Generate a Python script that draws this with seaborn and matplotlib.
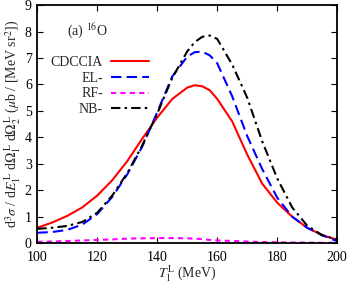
import numpy as np
import pandas as pd
import matplotlib
matplotlib.use("Agg")
import matplotlib.pyplot as plt
import seaborn as sns

# ---- data ----
t1 = [100, 105, 110, 115, 120, 125, 130, 135, 140, 145, 150, 152.5, 155, 157.5,
      160, 165, 170, 175, 180, 185, 190, 195, 200]
cdccia = [0.58, 0.78, 1.03, 1.35, 1.80, 2.38, 3.10, 3.95, 4.75, 5.45, 5.88, 5.97, 5.93, 5.78,
          5.45, 4.60, 3.35, 2.25, 1.53, 1.00, 0.58, 0.30, 0.13]
el = [0.39, 0.42, 0.50, 0.70, 1.10, 1.75, 2.60, 3.65, 4.95, 6.30, 7.05, 7.22, 7.24, 7.10,
      6.80, 5.55, 4.05, 2.80, 1.72, 1.00, 0.58, 0.30, 0.07]
rf = [0.05, 0.06, 0.08, 0.10, 0.12, 0.14, 0.17, 0.18, 0.19, 0.19, 0.18, 0.17, 0.15, 0.12,
      0.10, 0.08, 0.06, 0.04, 0.03, 0.02, 0.02, 0.01, 0.01]
nb = [0.54, 0.58, 0.65, 0.80, 1.15, 1.80, 2.65, 3.70, 4.90, 6.25, 7.25, 7.60, 7.80, 7.85,
      7.72, 6.75, 5.50, 3.85, 2.45, 1.35, 0.66, 0.30, 0.13]
labels = ["CDCCIA", "EL-", "RF-", "NB-"]
xticks = [100, 120, 140, 160, 180, 200]
yticks = [0, 1, 2, 3, 4, 5, 6, 7, 8, 9]

sns.set_theme(style="ticks")
plt.rcParams["font.family"] = ["Liberation Serif", "DejaVu Serif"]
plt.rcParams["mathtext.fontset"] = "stix"

fig = plt.figure(figsize=(3.49, 2.83), dpi=100)
ax = fig.add_axes([0.107, 0.141, 0.859, 0.841])

series = [cdccia, el, rf, nb]
colors = ["#ff0000", "#0000ff", "#ff00ff", "#000000"]
styles = ["-", (0, (5, 2.5)), (0, (2.5, 2)), (0, (4.5, 2, 1.2, 2))]
for ys, lab, c, ls in zip(series, labels, colors, styles):
    sns.lineplot(x=t1, y=ys, ax=ax, color=c, linestyle=ls, linewidth=1.5, label=lab)

ax.set_xlim(100, 200)
ax.set_ylim(0, 9)
ax.set_xticks(xticks)
ax.set_yticks(yticks)
ax.tick_params(direction="in", top=True, right=True, labelsize=10, length=4, width=0.8,
               colors="black", pad=4)
ax.tick_params(axis="x", pad=6)
for sp in ax.spines.values():
    sp.set_linewidth(1.3)
    sp.set_color("black")

ax.set_xlabel(r"$T_1^{\rm L}$ (MeV)", fontsize=10, labelpad=0)
ax.set_ylabel(r"d$^3\sigma$ / d$E_1^{\,\rm L}$ d$\Omega_1^{\,\rm L}$ d$\Omega_2^{\,\rm L}$ ($\mu$b / [MeV sr$^2$])",
              fontsize=10, labelpad=1)

ax.text(116.6, 8.0, r"(a) $^{16}$O", fontsize=10, ha="center", va="center")

leg = ax.legend(loc="upper left", bbox_to_anchor=(0.026, 0.81), frameon=False, fontsize=10,
                markerfirst=False, handlelength=2.7, labelspacing=0.2, handletextpad=0.6,
                borderaxespad=0)

fig.savefig("out.png", dpi=100)
